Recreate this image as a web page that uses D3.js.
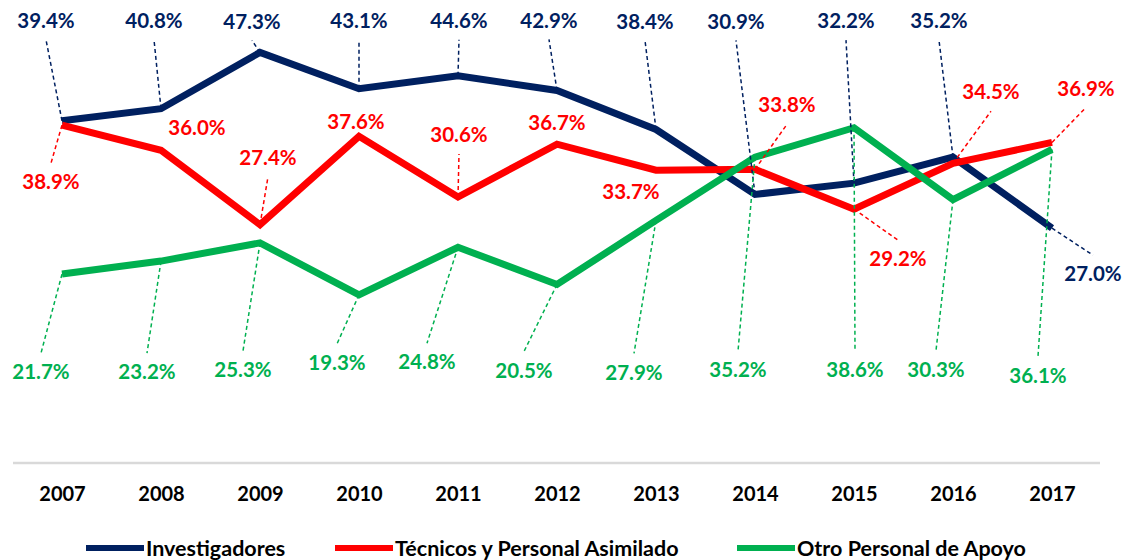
<!DOCTYPE html>
<html>
<head>
<meta charset="utf-8">
<script src="https://cdn.jsdelivr.net/npm/d3@7"></script>
<style>
  body { margin: 0; background: #fff; }
  svg { display: block; font-family: Lato, "Open Sans", sans-serif; font-weight: bold; }
</style>
</head>
<body>
<svg width="1129" height="560"></svg>
<script>
const width = 1129;
const height = 560;

// data (percent)
const years = ["2007", "2008", "2009", "2010", "2011", "2012", "2013", "2014", "2015", "2016", "2017"];
const investigadores = [39.4, 40.8, 47.3, 43.1, 44.6, 42.9, 38.4, 30.9, 32.2, 35.2, 27.0];
const tecnicos = [38.9, 36.0, 27.4, 37.6, 30.6, 36.7, 33.7, 33.8, 29.2, 34.5, 36.9];
const otro = [21.7, 23.2, 25.3, 19.3, 24.8, 20.5, 27.9, 35.2, 38.6, 30.3, 36.1];
const seriesNames = ["Investigadores", "Técnicos y Personal Asimilado", "Otro Personal de Apoyo"];

// where each data label sits, relative to its point (px)
const offInv = [[-16, -100], [-7, -88], [-8, -31], [0, -68], [1, -55], [-8, -70], [-11, -108], [-19, -173], [-8, -162], [-14, -136], [41, 46]];
const offTec = [[-11, 57], [36, -22], [8, -67], [-3, -15], [1, -62], [0, -21], [-25, 22], [32, -64], [44, 50], [38, -71], [34, -54]];
const offOtro = [[-21, 98], [-14, 111], [-17, 127], [-22, 68], [-31, 115], [-33, 86], [-22, 152], [-17, 213], [1, 242], [-17, 170], [-14, 226]];

const colors = ["#002060", "#FF0000", "#00B050"];

const series = [
    { name: seriesNames[0], values: investigadores, offsets: offInv, color: colors[0] },
    { name: seriesNames[1], values: tecnicos, offsets: offTec, color: colors[1] },
    { name: seriesNames[2], values: otro, offsets: offOtro, color: colors[2] }
];

const svg = d3.select("svg");

const x = d3.scalePoint()
    .domain(years)
    .range([62, 1052]);

const y = d3.scaleLinear()
    .domain([0, 50])
    .range([462, 29]);

// category axis: light grey baseline plus year labels
svg.append("line")
    .attr("x1", 13).attr("x2", 1100)
    .attr("y1", y(0) + 1).attr("y2", y(0) + 1)
    .attr("stroke", "#d9d9d9")
    .attr("stroke-width", 2.5);

const xAxis = svg.append("g")
    .attr("transform", `translate(0,${y(0) + 32})`)
    .call(d3.axisBottom(x).tickSize(0).tickPadding(0));
xAxis.select(".domain").remove();
xAxis.selectAll("text")
    .attr("dy", "0.35em")
    .attr("fill", "#000")
    .style("font-family", "Lato, 'Open Sans', sans-serif")
    .style("font-weight", "bold")
    .style("font-size", "20px");

const line = d3.line()
    .x((d, i) => x(years[i]))
    .y(d => y(d));

svg.append("g")
    .selectAll("path")
    .data(series)
    .join("path")
    .attr("d", d => line(d.values))
    .attr("fill", "none")
    .attr("stroke", d => d.color)
    .attr("stroke-width", 7);

// leader lines and labels
const labelHalf = 19;
const labels = [];
series.forEach(s => {
    s.values.forEach((v, i) => {
        const px = x(years[i]);
        const py = y(v);
        const lx = px + s.offsets[i][0];
        const ly = py + s.offsets[i][1];
        labels.push({ s, v, px, py, lx, ly });
    });
});

svg.append("g")
    .selectAll("line")
    .data(labels.filter(d => Math.abs(d.ly - d.py) - labelHalf > 6))
    .join("line")
    .attr("x1", d => d.px)
    .attr("y1", d => d.py)
    .attr("x2", d => d.lx)
    .attr("y2", d => d.ly > d.py ? d.ly - labelHalf : d.ly + labelHalf)
    .attr("stroke", d => d.s.color)
    .attr("stroke-width", 1.5)
    .attr("stroke-dasharray", "4,3");

svg.append("g")
    .selectAll("text")
    .data(labels)
    .join("text")
    .attr("x", d => d.lx)
    .attr("y", d => d.ly)
    .attr("dy", "0.35em")
    .attr("text-anchor", "middle")
    .attr("fill", d => d.s.color)
    .style("font-size", "20.5px")
    .text(d => d.v.toFixed(1) + "%");

// legend
const legendX = [86, 335, 737];
const legend = svg.append("g")
    .selectAll("g")
    .data(series)
    .join("g")
    .attr("transform", (d, i) => `translate(${legendX[i]},548)`);

legend.append("line")
    .attr("x1", 0).attr("x2", 58)
    .attr("stroke", d => d.color)
    .attr("stroke-width", 6);

legend.append("text")
    .attr("x", 60)
    .attr("dy", "0.35em")
    .attr("fill", "#000")
    .style("font-size", "21.5px")
    .text(d => d.name);
</script>
</body>
</html>
